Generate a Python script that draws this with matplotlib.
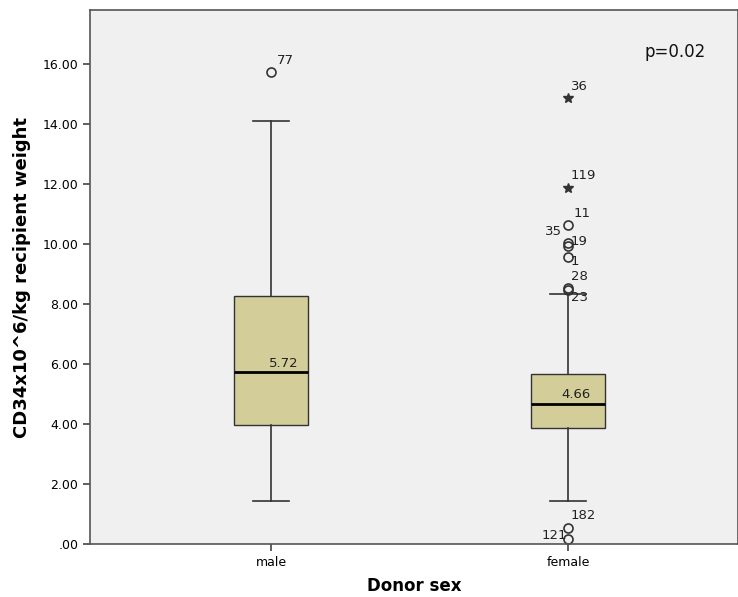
import matplotlib
matplotlib.use("Agg")
import matplotlib.pyplot as plt

categories = ["male", "female"]
q1 = [3.97, 3.87]
medians = [5.72, 4.66]
q3 = [8.27, 5.67]
whislo = [1.45, 1.43]
whishi = [14.10, 8.33]

# outliers: (group index, value, label, kind)
out_groups = [0, 1, 1, 1, 1, 1, 1, 1, 1, 1, 1]
out_values = [15.72, 14.88, 11.88, 10.65, 10.05, 9.92, 9.57, 8.52, 8.47, 0.55, 0.17]
out_labels = ["77", "36", "119", "11", "35", "19", "1", "28", "23", "182", "121"]
out_kinds = ["o", "*", "*", "o", "o", "o", "o", "o", "o", "o", "o"]
# label offset (points)
label_offsets = [(4, 4), (2, 3), (2, 4), (4, 3), (-17, 3), (2, -1), (2, -8), (2, 4), (2, -10), (2, 4), (-19, -2)]

fig = plt.figure(figsize=(7.38, 5.97), dpi=100)
ax = fig.add_axes([90/738, 53/597, 648/738, 534/597])
ax.set_facecolor("#F0F0F0")

positions = [1, 2]
stats = []
for i in range(2):
    stats.append(dict(med=medians[i], q1=q1[i], q3=q3[i], whislo=whislo[i], whishi=whishi[i], fliers=[], label=categories[i]))

ax.bxp(stats, positions=positions, widths=0.25, patch_artist=True, showfliers=False,
       boxprops=dict(facecolor="#D3CD99", edgecolor="#333333", linewidth=1.0),
       medianprops=dict(color="black", linewidth=2.0),
       whiskerprops=dict(color="#333333", linewidth=1.2),
       capprops=dict(color="#333333", linewidth=1.2),
       capwidths=0.12)

for g, v, lab, k, off in zip(out_groups, out_values, out_labels, out_kinds, label_offsets):
    x = positions[g]
    if k == "o":
        ax.plot(x, v, marker="o", markersize=6.5, markerfacecolor="none", markeredgecolor="#333333", markeredgewidth=1.2)
    else:
        ax.plot(x, v, marker="*", markersize=7, color="#333333", linestyle="none")
    ax.annotate(lab, (x, v), xytext=off, textcoords="offset points", fontsize=9.5, color="#222222",
                ha="left", va="bottom")

median_offsets = [9, 6]
for i in range(2):
    ax.annotate(f"{medians[i]:.2f}", (positions[i], medians[i]), xytext=(median_offsets[i], 2), textcoords="offset points",
                fontsize=9.5, ha="center", va="bottom", color="#222222")

ax.text(0.903, 0.921, "p=0.02", transform=ax.transAxes, fontsize=12, ha="center", va="center", color="#111111")

ax.set_xlim(0.39, 2.572)
ax.set_ylim(0, 17.8)
yt = [0, 2, 4, 6, 8, 10, 12, 14, 16]
ax.set_yticks(yt)
ax.set_yticklabels([".00" if t == 0 else f"{t:.2f}" for t in yt], fontsize=9)
ax.set_xticks(positions)
ax.set_xticklabels(categories, fontsize=9)
ax.tick_params(axis="both", color="#444444", length=5, width=1.2)
for s in ax.spines.values():
    s.set_color("#555555")
    s.set_linewidth(1.2)
ax.set_ylabel("CD34x10^6/kg recipient weight", fontsize=13, fontweight="bold", labelpad=8)
ax.set_xlabel("Donor sex", fontsize=12, fontweight="bold", labelpad=6)

fig.savefig("out.png", dpi=100)
